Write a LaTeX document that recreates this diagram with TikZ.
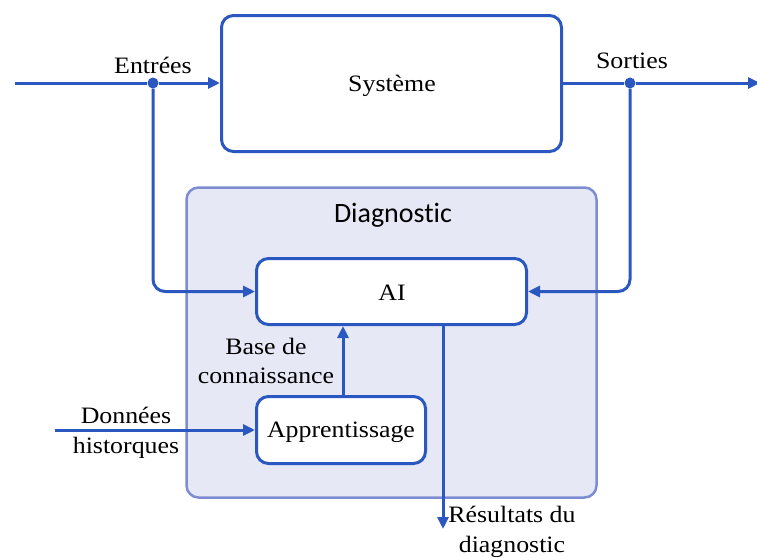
\documentclass[tikz,border=0pt]{standalone}
\usepackage{fontspec}
\setmainfont[FakeStretch=1.1]{Liberation Serif}
\newfontfamily\labelsans[Ligatures=NoCommon]{Carlito}
\usetikzlibrary{arrows.meta,calc}
\definecolor{flowblue}{HTML}{2B57C1}
\definecolor{diagfill}{HTML}{E6E8F5}
\definecolor{diagedge}{HTML}{7E8DD2}
\tikzset{
  block/.style={draw=flowblue, line width=3pt, fill=white, rounded corners=12pt,
    inner sep=0pt, font=\fontsize{23.5}{28}\selectfont},
  flow/.style={draw=flowblue, line width=3pt, -{Triangle[length=12pt,width=11pt]}},
  wire/.style={draw=flowblue, line width=3pt},
  junction/.style={circle, fill=flowblue, inner sep=0pt, minimum size=11pt},
  lbl/.style={font=\fontsize{23.5}{29.5}\selectfont, align=center, inner sep=0pt}
}
\begin{document}
\begin{tikzpicture}[x=1pt, y=-1pt]
  \useasboundingbox (0,0) rectangle (757,557);

  % diagnostic area
  \node[draw=diagedge, line width=2.5pt, fill=diagfill, rounded corners=12pt,
        minimum width=410pt, minimum height=310pt, inner sep=0pt] (diag) at (391.5,342.5) {};
  \node[font=\labelsans\fontsize{28}{32}\selectfont, inner sep=0pt] (diagtitle) at (393,215) {Diagnostic};

  % blocks
  \node[block, minimum width=340pt, minimum height=136pt] (sys) at (391.5,83.5) {};
  \node[block, minimum width=270pt, minimum height=66pt] (ai) at (391.5,291.5) {};
  \node[block, minimum width=169pt, minimum height=67pt] (appr) at (341,430) {};
  \node[lbl] (systxt) at (392,86) {Système};
  \node[lbl] (aitxt) at (392,293) {AI};
  \node[lbl] (apprtxt) at (341,432) {Apprentissage};

  % system input / output
  \coordinate (inS) at (15,83);
  \coordinate (outE) at (760,83);
  \node[junction] (din) at (153,83) {};
  \node[junction] (dout) at (630,83) {};
  \draw[wire] (inS) -- (din);
  \draw[flow] (din) -- (sys.west |- din);
  \draw[wire] (sys.east |- dout) -- (dout);
  \draw[flow] (dout) -- (outE);

  % feeds to the AI block
  \draw[flow, rounded corners=12pt] (din) |- (ai.west);
  \draw[flow, rounded corners=12pt] (dout) |- (ai.east);

  % knowledge base and history
  \draw[flow] (appr.north -| 343,0) -- (ai.south -| 343,0);
  \coordinate (hist) at (55,430);
  \draw[flow] (hist) -- (appr.west);

  % results
  \coordinate (res) at (443,529);
  \draw[flow] (ai.south -| res) -- (res);

  % labels
  \node[lbl] (lin) at (153,65) {Entrées};
  \node[lbl] (lout) at (632,61) {Sorties};
  \node[lbl] (lkb) at (266,361) {Base de\\connaissance};
  \node[lbl] (lhist) at (126,433) {Données\\historques};
  \node[lbl] (lres) at (512,532) {Résultats du\\diagnostic};
\end{tikzpicture}
\end{document}
